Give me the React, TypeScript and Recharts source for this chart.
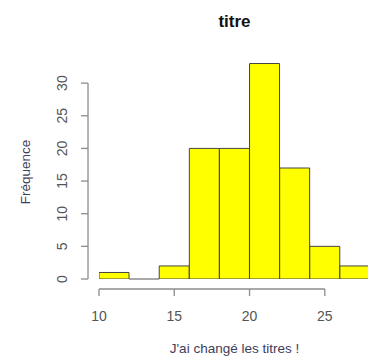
import { ComposedChart, Bar, XAxis, YAxis, ReferenceLine } from "recharts";

// histogram bins (width 2) and counts
const binMids = [11, 13, 15, 17, 19, 21, 23, 25, 27];
const counts = [1, 0, 2, 20, 20, 33, 17, 5, 2];
const xTicks = [10, 15, 20, 25];
const yTicks = [0, 5, 10, 15, 20, 25, 30];

const data = binMids.map((mid, i) => ({ mid, count: counts[i] }));

const FONT = "'Liberation Sans', Arial, sans-serif";
const AXIS = "#8c8c8c";
const TICK_TXT = "#555";
const LAB = "#3d3d5c";

const XTick = ({ x, y, payload }: any) => (
  <g>
    <line x1={x} x2={x} y1={y + 10} y2={y + 17} stroke={AXIS} strokeWidth={1.3} />
    <text x={x} y={y + 42} textAnchor="middle" fill={TICK_TXT} fontSize={14} fontFamily={FONT}>
      {payload.value}
    </text>
  </g>
);

const YTick = ({ x, y, payload }: any) => (
  <g>
    <line x1={x - 18} x2={x - 11} y1={y} y2={y} stroke={AXIS} strokeWidth={1.3} />
    <text
      x={0}
      y={0}
      dy="0.35em"
      textAnchor="middle"
      transform={`translate(${x - 37},${y}) rotate(-90)`}
      fill={TICK_TXT}
      fontSize={14}
      fontFamily={FONT}
    >
      {payload.value}
    </text>
  </g>
);

export default function App() {
  return (
    <div style={{ position: "absolute", left: 0, top: 0, width: 368, height: 358, overflow: "hidden", background: "#fff" }}>
      <div
        style={{
          position: "absolute",
          left: 99,
          width: 271,
          top: 12,
          textAlign: "center",
          fontFamily: FONT,
          fontWeight: "bold",
          fontSize: 17,
          color: "#111",
        }}
      >
        titre
      </div>
      <ComposedChart
        width={372}
        height={358}
        data={data}
        margin={{ top: 57, right: 2, left: 0, bottom: 0 }}
        barCategoryGap={0}
        barGap={0}
      >
        <XAxis
          dataKey="mid"
          type="number"
          domain={[10, 28]}
          ticks={xTicks}
          height={79}
          axisLine={false}
          tickLine={false}
          tickSize={0}
          tickMargin={0}
          tick={<XTick />}
          interval={0}
          allowDataOverflow
          label={{
            content: ({ viewBox }: any) => (
              <text
                x={viewBox.x + viewBox.width / 2}
                y={353}
                textAnchor="middle"
                fill={LAB}
                fontSize={13.5}
                fontFamily={FONT}
              >
                J'ai changé les titres !
              </text>
            ),
          }}
        />
        <YAxis
          type="number"
          domain={[0, 34]}
          ticks={yTicks}
          width={99}
          axisLine={false}
          tickLine={false}
          tickSize={0}
          tickMargin={0}
          tick={<YTick />}
          interval={0}
          allowDataOverflow
          label={{
            content: () => (
              <text
                x={0}
                y={0}
                dy="0.35em"
                textAnchor="middle"
                transform="translate(25,172) rotate(-90)"
                fill={LAB}
                fontSize={13.5}
                fontFamily={FONT}
              >
                Fréquence
              </text>
            ),
          }}
        />
        <ReferenceLine
          segment={[{ x: 10, y: -1.53 }, { x: 25, y: -1.53 }]}
          stroke={AXIS}
          strokeWidth={1.3}
          ifOverflow="visible"
        />
        <ReferenceLine
          segment={[{ x: 9.27, y: 0 }, { x: 9.27, y: 30 }]}
          stroke={AXIS}
          strokeWidth={1.3}
          ifOverflow="visible"
        />
        <ReferenceLine
          segment={[{ x: 12, y: 0 }, { x: 14, y: 0 }]}
          stroke="#555"
          strokeWidth={1}
          ifOverflow="visible"
        />
        <Bar dataKey="count" fill="#ffff00" stroke="#444" strokeWidth={1} isAnimationActive={false} />
      </ComposedChart>
    </div>
  );
}
